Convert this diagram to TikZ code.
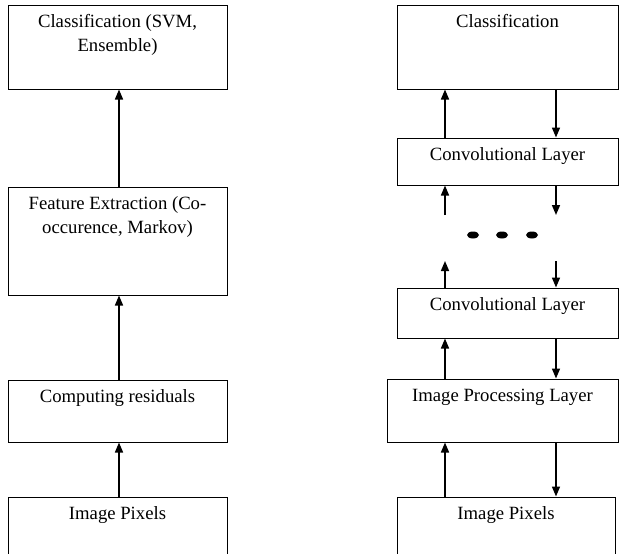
\documentclass[tikz,border=0pt]{standalone}
\usepackage{fontspec}
\setmainfont{Liberation Serif}
\usetikzlibrary{arrows.meta}
\begin{document}
\begin{tikzpicture}[x=1pt,y=1pt,
  box/.style={draw, line width=1pt, rectangle, inner sep=0pt},
  lbl/.style={anchor=base, align=center, inner sep=0pt, font=\fontsize{18.7}{24}\selectfont},
  arr/.style={-{Triangle[length=10pt,width=8pt]}, line width=1.6pt}]
\clip (0,0) rectangle (619,-554);
% left column
\node[box, minimum width=219pt, minimum height=84pt] (L1) at (117.5,-47) {};
\node[box, minimum width=219pt, minimum height=108pt] (L2) at (117.5,-241) {};
\node[box, minimum width=219pt, minimum height=62pt] (L3) at (117.5,-411) {};
\node[box, minimum width=219pt, minimum height=123pt] (L4) at (117.5,-558.5) {};
\node[lbl] (tL1) at ([yshift=-47pt]L1.north) {Classification (SVM,\\Ensemble)};
\node[lbl] (tL2) at ([yshift=-47pt]L2.north) {Feature Extraction (Co-\\occurence, Markov)};
\node[lbl] (tL3) at ([yshift=-23pt]L3.north) {Computing residuals};
\node[lbl] (tL4) at ([yshift=-23pt]L4.north) {Image Pixels};
\coordinate (la) at (119,0);
\draw[arr] (L2.north -| la) -- (L1.south -| la);
\draw[arr] (L3.north -| la) -- (L2.south -| la);
\draw[arr] (L4.north -| la) -- (L3.south -| la);
% right column
\node[box, minimum width=221pt, minimum height=84pt] (R1) at (507.5,-47) {};
\node[box, minimum width=221pt, minimum height=47pt] (R2) at (507.5,-161.5) {};
\node[box, minimum width=221pt, minimum height=50pt] (R3) at (507.5,-313) {};
\node[box, minimum width=231pt, minimum height=63pt] (R4) at (502.5,-410.5) {};
\node[box, minimum width=218pt, minimum height=123pt] (R5) at (506,-558.5) {};
\node[lbl] (tR1) at ([yshift=-23pt]R1.north) {Classification};
\node[lbl] (tR2) at ([yshift=-23pt]R2.north) {Convolutional Layer};
\node[lbl] (tR3) at ([yshift=-23pt]R3.north) {Convolutional Layer};
\node[lbl] (tR4) at ([yshift=-23pt]R4.north) {Image Processing Layer};
\node[lbl] (tR5) at ([yshift=-23pt]R5.north) {Image Pixels};
\coordinate (u1) at (445,-215);
\coordinate (d1) at (556,-215);
\coordinate (u2) at (445,-261);
\coordinate (d2) at (556,-261);
\draw[arr] (R2.north -| u1) -- (R1.south -| u1);
\draw[arr] (R1.south -| d1) -- (R2.north -| d1);
\draw[arr] (u1) -- (R2.south -| u1);
\draw[arr] (R2.south -| d1) -- (d1);
\draw[arr] (R3.north -| u2) -- (u2);
\draw[arr] (d2) -- (R3.north -| d2);
\draw[arr] (R4.north -| u1) -- (R3.south -| u1);
\draw[arr] (R3.south -| d1) -- (R4.north -| d1);
\draw[arr] (R5.north -| u1) -- (R4.south -| u1);
\draw[arr] (R4.south -| d1) -- (R5.north -| d1);
\fill (473,-235) ellipse (6 and 3.5);
\fill (502,-235) ellipse (6 and 3.5);
\fill (532,-235) ellipse (6 and 3.5);
\end{tikzpicture}
\end{document}
